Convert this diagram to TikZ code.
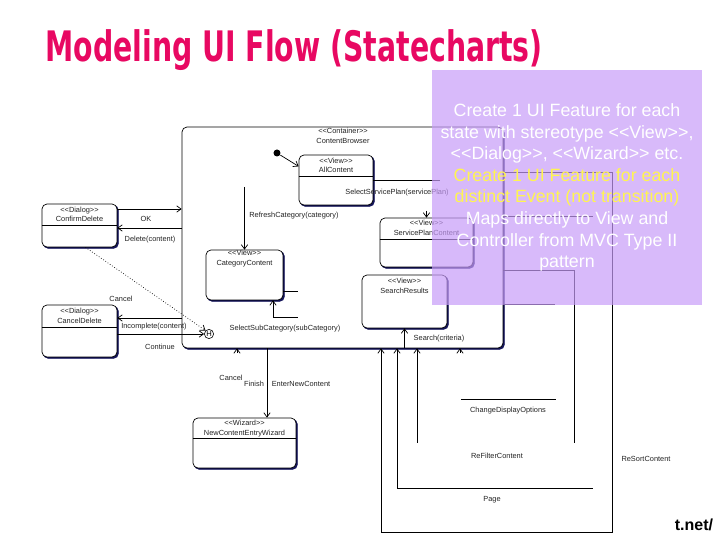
\documentclass[tikz,border=0pt]{standalone}
\usepackage{fontspec}
\setmainfont{Liberation Sans}
\newfontfamily\titlefont{DejaVu Sans}
\usetikzlibrary{arrows.meta,shadows}
\definecolor{umlNavy}{RGB}{20,20,90}
\definecolor{umlText}{RGB}{35,35,35}
\definecolor{noteFill}{RGB}{199,156,248}
\definecolor{noteYellow}{RGB}{255,245,80}
\definecolor{titleRed}{RGB}{232,8,98}
\newcommand{\lgl}{<{}<}
\newcommand{\rgl}{>{}>}

\begin{document}
\begin{tikzpicture}[
  x=0.5pt,
  y=-0.5pt,
  stateBox/.style 2 args={draw=black, line width=0.35pt, fill=white,
    rounded corners=2.5pt, inner sep=0pt,
    minimum width=#1*0.5pt, minimum height=#2*0.5pt,
    copy shadow={shadow xshift=0.7pt, shadow yshift=-0.7pt, draw=umlNavy, fill=umlNavy}},
  stateName/.style={font=\fontsize{3.7}{4.7}\selectfont, text=umlText, align=center, inner sep=0pt},
  evLabel/.style={font=\fontsize{3.7}{4.7}\selectfont, text=umlText, inner sep=0pt},
  wire/.style={draw=black, line width=0.35pt},
  trans/.style={wire, -{Straight Barb[length=2.2pt, width=3.2pt]}},
  histState/.style={circle, draw=black, line width=0.3pt, fill=white, inner sep=0.3pt,
    font=\fontsize{3.8}{4}\selectfont},
  initDot/.style={circle, fill=black, inner sep=0pt, minimum size=3.5pt},
  noteBox/.style={fill=noteFill, fill opacity=0.7, text opacity=1, text=white,
    minimum width=135pt, minimum height=117.5pt, align=center,
    font=\fontsize{8.9}{10.8}\selectfont}
]
  \path[use as bounding box] (0,0) rectangle (720,540);

  \node[stateBox={321}{221}] (cont) at (342.5,237.5) {};
  \node[stateName] (contName) at (343,136) {\lgl Container\rgl\\ContentBrowser};

  \node[stateBox={74}{50}] (allc) at (336,180) {};
  \node[stateBox={75}{43}] (conf) at (79.5,225.5) {};
  \node[stateBox={75}{52}] (cnld) at (79.5,331) {};
  \node[stateBox={77}{50}] (catc) at (244.5,275) {};
  \node[stateBox={93}{49}] (splc) at (426.5,242.5) {};
  \node[stateBox={85}{53}] (srch) at (404.5,301.5) {};
  \node[stateBox={103}{50}] (wiz) at (244.5,443) {};

  \node[stateName] (allcName) at (336,165.5) {\lgl View\rgl\\AllContent};
  \node[stateName] (confName) at (79.5,214.5) {\lgl Dialog\rgl\\ConfirmDelete};
  \node[stateName] (cnldName) at (79.5,316) {\lgl Dialog\rgl\\CancelDelete};
  \node[stateName] (catcName) at (244.5,258.5) {\lgl View\rgl\\CategoryContent};
  \node[stateName] (splcName) at (426.5,228) {\lgl View\rgl\\ServicePlanContent};
  \node[stateName] (srchName) at (404.5,286) {\lgl View\rgl\\SearchResults};
  \node[stateName] (wizName) at (244.5,428.5) {\lgl Wizard\rgl\\NewContentEntryWizard};

  \foreach \st/\y in {allc/176, conf/225, cnld/327, splc/239, wiz/438} {
    \draw[wire] (\st.west |- 0,\y) -- (\st.east |- 0,\y);
  }

  \node[initDot] (init) at (277,153) {};
  \node[histState] (hist) at (209,334) {H};

  \draw[trans] (init) -- (allc.160);
  \draw[wire] (allc.east) -- ++(67,0);
  \draw[trans] ([yshift=3.5pt]splc.north) -- (splc.north);
  \draw[trans] (conf.east |- 0,209) -- (cont.west |- 0,209);
  \draw[trans] (cont.west |- 0,228) -- (conf.east |- 0,228);
  \draw[trans, densely dotted] ([xshift=3pt]conf.south) -- (hist.north west);
  \draw[trans] (cont.west |- 0,318) -- (cnld.east |- 0,318);
  \draw[trans] (cnld.east |- hist) -- (hist.west);
  \draw[trans] (catc.north |- 0,187) -- (catc.north);
  \draw[wire] (catc.east |- 0,291) -- ++(15,0);
  \draw[trans] (298,317) -| ([xshift=14.25pt]catc.south);
  \draw[trans] (cont.south -| srch.south) -- (srch.south);
  \draw[trans] (cont.south -| 267,0) -- (wiz.north -| 267,0);

  \coordinate (sortA) at (612,172);
  \coordinate (sortB) at (381,532);
  \coordinate (filA) at (574,270);
  \coordinate (filB) at (574,443);
  \coordinate (filC) at (417,443);
  \coordinate (pageA) at (593,488);
  \coordinate (pageB) at (397,488);
  \coordinate (chgA) at (461,399);
  \coordinate (chgB) at (556,399);
  \coordinate (tipA) at (237,353);
  \coordinate (tipB) at (460,353);

  \draw[trans] (cont.east |- sortA) -- (sortA) |- (sortB) -- (cont.south -| sortB);
  \draw[wire] (cont.east |- filA) -- (filA) -- (filB);
  \draw[trans] (filC) -- (cont.south -| filC);
  \draw[trans] (pageA) -- (pageB) -- (cont.south -| pageB);
  \draw[wire] (chgA) -- (chgB);
  \draw[wire] (cont.east |- 0,216) -- (593,216);
  \draw[wire] (cont.east |- 0,304) -- (555,304);
  \draw[trans] (tipA) -- (cont.south -| tipA);
  \draw[trans] (tipB) -- (cont.south -| tipB);

  \node[evLabel] (okLbl) at (146,219) {OK};
  \node[evLabel] (delLbl) at (150,240) {Delete(content)};
  \node[evLabel] (cnlLbl) at (121,299) {Cancel};
  \node[evLabel] (incLbl) at (154,327) {Incomplete(content)};
  \node[evLabel] (conLbl) at (160,347) {Continue};
  \node[evLabel] (refLbl) at (294,216) {RefreshCategory(category)};
  \node[evLabel] (selLbl) at (397,193) {SelectServicePlan(servicePlan)};
  \node[evLabel] (subLbl) at (285,329) {SelectSubCategory(subCategory)};
  \node[evLabel] (srchLbl) at (439,339) {Search(criteria)};
  \node[evLabel] (wcLbl) at (231,378) {Cancel};
  \node[evLabel] (finLbl) at (254,384) {Finish};
  \node[evLabel] (entLbl) at (301,384) {EnterNewContent};
  \node[evLabel] (chgLbl) at (508,411) {ChangeDisplayOptions};
  \node[evLabel] (filLbl) at (497,456) {ReFilterContent};
  \node[evLabel] (pageLbl) at (492,500) {Page};
  \node[evLabel] (sortLbl) at (646,459) {ReSortContent};

  \node[noteBox] (note) at (567,187.5) {Create 1 UI Feature for each\\
    state with stereotype \lgl View\rgl,\\
    \lgl Dialog\rgl, \lgl Wizard\rgl{} etc.\\
    \textcolor{noteYellow}{Create 1 UI Feature for each}\\
    \textcolor{noteYellow}{distinct Event (not transition)}\\
    Maps directly to View and\\
    Controller from MVC Type II\\
    pattern};

  \node[anchor=base west, text=titleRed, inner sep=0pt] (title) at (45,62)
    {\titlefont\bfseries\fontsize{21}{22}\selectfont\scalebox{0.675}[1]{Modeling UI Flow (Statecharts)}};
  \node[font=\bfseries\fontsize{8}{9}\selectfont] (url) at (694,525) {t.net/};
\end{tikzpicture}
\end{document}
